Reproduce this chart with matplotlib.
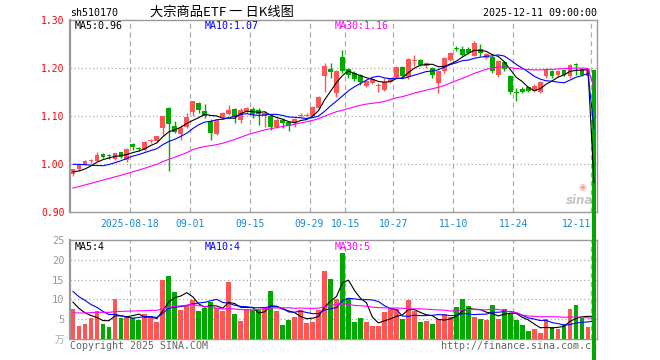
import numpy as np
import matplotlib.pyplot as plt

# daily candles 2025-08-04 .. 2025-12-11 (index 0..87)
opens = [0.979, 0.989, 0.998, 1.006, 1.007, 1.021, 1.018, 1.010, 1.024, 1.008,
         1.042, 1.034, 1.029, 1.047, 1.047, 1.074, 1.117, 1.079, 1.062, 1.078,
         1.108, 1.128, 1.110, 1.090, 1.062, 1.097, 1.104, 1.115, 1.092, 1.109,
         1.115, 1.113, 1.100, 1.100, 1.078, 1.092, 1.088, 1.085, 1.101, 1.101,
         1.101, 1.117, 1.184, 1.198, 1.148, 1.222, 1.198, 1.190, 1.186, 1.163,
         1.169, 1.162, 1.155, 1.170, 1.182, 1.202, 1.181, 1.215, 1.217, 1.205,
         1.200, 1.169, 1.193, 1.217, 1.241, 1.240, 1.240, 1.226, 1.240, 1.221,
         1.223, 1.186, 1.212, 1.184, 1.150, 1.157, 1.161, 1.153, 1.151, 1.183,
         1.193, 1.185, 1.196, 1.183, 1.208, 1.197, 1.183, 1.196]
highs = [0.990, 0.999, 1.008, 1.010, 1.025, 1.023, 1.020, 1.023, 1.025, 1.033,
         1.044, 1.036, 1.047, 1.053, 1.059, 1.100, 1.118, 1.090, 1.081, 1.106,
         1.132, 1.130, 1.125, 1.093, 1.093, 1.109, 1.123, 1.116, 1.117, 1.119,
         1.118, 1.116, 1.110, 1.102, 1.095, 1.096, 1.090, 1.095, 1.106, 1.106,
         1.120, 1.141, 1.210, 1.210, 1.195, 1.238, 1.200, 1.193, 1.188, 1.174,
         1.179, 1.169, 1.180, 1.179, 1.204, 1.205, 1.221, 1.228, 1.219, 1.212,
         1.203, 1.195, 1.222, 1.233, 1.245, 1.245, 1.244, 1.256, 1.249, 1.232,
         1.225, 1.216, 1.214, 1.186, 1.158, 1.160, 1.163, 1.166, 1.172, 1.200,
         1.196, 1.196, 1.198, 1.209, 1.211, 1.200, 1.200, 1.196]
lows = [0.976, 0.986, 0.997, 1.002, 1.006, 1.012, 1.010, 1.009, 1.013, 1.004,
        1.030, 1.028, 1.027, 1.043, 1.045, 1.060, 0.986, 1.064, 1.051, 1.075,
        1.099, 1.106, 1.095, 1.051, 1.060, 1.094, 1.102, 1.085, 1.085, 1.107,
        1.095, 1.081, 1.078, 1.070, 1.075, 1.075, 1.069, 1.078, 1.097, 1.097,
        1.099, 1.115, 1.150, 1.179, 1.140, 1.190, 1.180, 1.172, 1.165, 1.160,
        1.166, 1.150, 1.152, 1.168, 1.180, 1.180, 1.178, 1.205, 1.205, 1.200,
        1.180, 1.148, 1.190, 1.214, 1.236, 1.225, 1.229, 1.224, 1.224, 1.219,
        1.190, 1.182, 1.194, 1.145, 1.132, 1.147, 1.150, 1.150, 1.148, 1.180,
        1.180, 1.182, 1.183, 1.180, 1.186, 1.183, 1.176, 0.010]
closes = [0.989, 0.998, 1.006, 1.007, 1.019, 1.015, 1.016, 1.022, 1.015, 1.031,
          1.035, 1.032, 1.046, 1.049, 1.058, 1.099, 1.083, 1.067, 1.076, 1.097,
          1.131, 1.112, 1.101, 1.065, 1.092, 1.107, 1.113, 1.100, 1.113, 1.116,
          1.104, 1.104, 1.107, 1.078, 1.092, 1.085, 1.080, 1.094, 1.102, 1.102,
          1.119, 1.139, 1.205, 1.192, 1.193, 1.193, 1.186, 1.178, 1.170, 1.172,
          1.177, 1.163, 1.170, 1.177, 1.203, 1.183, 1.219, 1.217, 1.207, 1.210,
          1.186, 1.193, 1.221, 1.232, 1.239, 1.228, 1.232, 1.253, 1.231, 1.230,
          1.193, 1.214, 1.198, 1.151, 1.147, 1.150, 1.153, 1.163, 1.170, 1.195,
          1.184, 1.193, 1.186, 1.207, 1.206, 1.186, 1.197, 0.010]
volumes = [7.7, 3.2, 3.9, 5.3, 7.0, 3.9, 3.0, 10.0, 5.3, 5.9,
           5.3, 4.9, 6.2, 5.3, 4.2, 15.0, 16.0, 11.8, 7.3, 8.4,
           9.8, 7.0, 7.8, 9.3, 7.8, 7.0, 14.3, 6.4, 4.5, 7.6,
           7.2, 7.2, 7.8, 12.2, 7.0, 3.6, 4.9, 5.6, 7.4, 4.1,
           4.2, 7.2, 17.1, 15.2, 10.0, 21.6, 10.4, 4.2, 5.3, 4.2,
           3.4, 3.2, 6.8, 7.8, 7.5, 5.1, 9.8, 7.0, 4.2, 4.5,
           3.9, 5.1, 6.2, 5.6, 8.0, 10.2, 8.4, 5.5, 5.1, 4.7,
           8.7, 5.1, 7.7, 6.3, 4.7, 3.6, 1.9, 2.6, 1.4, 5.1,
           3.0, 2.6, 3.9, 7.7, 8.7, 5.3, 3.0, 3.9]

# the 29 sessions before the window (only feed the moving averages)
pre_closes = [0.905, 0.902, 0.910, 0.915, 0.912, 0.918, 0.920, 0.916, 0.922, 0.925,
              0.928, 0.924, 0.930, 0.935, 0.932, 0.938, 0.940, 0.936, 0.945, 0.948,
              1.000, 1.012, 1.018, 1.025, 1.020, 0.990, 0.985, 0.975, 0.980]
pre_volumes = [3.5, 4.2, 3.0, 4.8, 3.6, 4.0, 3.2, 4.5, 3.8, 4.1,
               3.4, 4.6, 3.9, 3.3, 4.4, 3.7, 4.2, 3.6, 4.0, 4.2,
               16.5, 13.0, 15.8, 14.2, 14.0, 11.0, 9.5, 8.8, 9.5]

tick_idx = [10, 20, 30, 40, 46, 54, 64, 74, 87]
tick_labels = ['2025-08-18', '09-01', '09-15', '09-29', '10-15',
               '10-27', '11-10', '11-24', '12-11']

RED = '#ff5555'
GREEN = '#00a800'
GRID = '#aaaaaa'
MONO = 'DejaVu Sans Mono'

W, H = 660, 360


def box(l, t, r, b):
    return [l / W, 1 - b / H, (r - l) / W, (b - t) / H]


def px(a, b):
    return a / W, 1 - b / H


def ma(pre, cur, n):
    s = np.concatenate([pre, cur])
    return np.convolve(s, np.ones(n) / n, mode='valid')[-len(cur):]


opens = np.array(opens); closes = np.array(closes)
highs = np.array(highs); lows = np.array(lows)
volumes = np.array(volumes)
x = np.arange(len(closes))
colors = np.where(closes >= opens, RED, GREEN)

fig = plt.figure(figsize=(W / 100, H / 100), dpi=100)
fig.patch.set_facecolor('white')
ax = fig.add_axes(box(70, 20, 597, 212))
axv = fig.add_axes(box(70, 240, 597, 339))
ax.set_zorder(2)
axv.set_zorder(1)

for a in (ax, axv):
    a.set_facecolor('none')
    a.set_xlim(-0.5, len(x) - 0.5)
    for s in a.spines.values():
        s.set_color('#999999')
        s.set_linewidth(1)
    a.spines['left'].set_linewidth(1.6)
    for k in tick_idx:
        a.axvline(k - 0.5, color=GRID, ls=(0, (4, 3)), lw=0.9, zorder=0)
    a.tick_params(length=0)

# price panel
ax.set_ylim(0.90, 1.30)
for v in (1.0, 1.1, 1.2):
    ax.axhline(v, color=GRID, ls=(0, (1, 2)), lw=0.9, zorder=0)
ax.set_yticks([0.9, 1.0, 1.1, 1.2, 1.3])
ax.set_yticklabels(['%.2f' % v for v in [0.9, 1.0, 1.1, 1.2, 1.3]],
                   color='red', family=MONO, fontsize=7)
ax.tick_params(axis='y', pad=4)
ax.set_xticks([k - 0.5 for k in tick_idx])
ax.set_xticklabels(tick_labels, color='#1787d8', family=MONO, fontsize=7)
ax.get_xticklabels()[-1].set_ha('right')
ax.tick_params(axis='x', pad=5)

ax.vlines(x[:-1], lows[:-1], highs[:-1], colors=colors[:-1], lw=1, zorder=3)
bars = ax.bar(x, np.maximum(np.abs(closes - opens), 0.002), 0.8,
              bottom=np.minimum(opens, closes), color=colors, lw=0, zorder=4)
# last session's body runs off the panel, down through the volume pane
bars.patches[-1].set_clip_on(False)
bars.patches[-1].set_antialiased(False)

ax.plot(x, ma(pre_closes, closes, 5), color='black', lw=0.8, zorder=5)
ax.plot(x, ma(pre_closes, closes, 10), color='blue', lw=0.8, zorder=5)
ax.plot(x, ma(pre_closes, closes, 30), color='magenta', lw=0.8, zorder=5)

# sina watermark
ax.text(*px(582, 187), '\u25c9', transform=fig.transFigure, color='#f5a5a5',
        fontsize=6.5, ha='center', va='center', zorder=1)
ax.text(*px(566, 201), 'sina', transform=fig.transFigure, color='#c4c4c4',
        fontsize=8.5, style='italic', weight='bold', va='center', zorder=1)

# volume panel
axv.set_ylim(0, 25)
for v in (5, 10, 15, 20):
    axv.axhline(v, color=GRID, ls=(0, (1, 2)), lw=0.9, zorder=0)
axv.set_yticks([5, 10, 15, 20, 25])
axv.set_yticklabels(['5', '10', '15', '20', '25'], color='#999999',
                    family=MONO, fontsize=7.5)
axv.tick_params(axis='y', pad=4)
axv.set_xticks([])
axv.bar(x, volumes, 0.8, color=colors, lw=0, zorder=3)
axv.plot(x, ma(pre_volumes, volumes, 5), color='black', lw=0.8, zorder=5)
axv.plot(x, ma(pre_volumes, volumes, 10), color='blue', lw=0.8, zorder=5)
axv.plot(x, ma(pre_volumes, volumes, 30), color='magenta', lw=0.8, zorder=5)

# header and labels
fig.text(*px(70, 12.5), 'sh510170', family=MONO, fontsize=7.2, va='center')
fig.text(*px(150, 12), '大宗商品ETF 一 日K线图', family=['Noto Sans CJK SC', 'DejaVu Sans'],
         fontsize=9.5, va='center')
fig.text(*px(597, 12.5), '2025-12-11 09:00:00', family=MONO, fontsize=7.2,
         va='center', ha='right')

fig.text(*px(75, 26), 'MA5:0.96', family=MONO, fontsize=7.2, va='center', color='black')
fig.text(*px(205, 26), 'MA10:1.07', family=MONO, fontsize=7.2, va='center', color='blue')
fig.text(*px(335, 26), 'MA30:1.16', family=MONO, fontsize=7.2, va='center', color='magenta')
fig.text(*px(75, 246.5), 'MA5:4', family=MONO, fontsize=7.2, va='center', color='black')
fig.text(*px(205, 246.5), 'MA10:4', family=MONO, fontsize=7.2, va='center', color='blue')
fig.text(*px(335, 246.5), 'MA30:5', family=MONO, fontsize=7.2, va='center', color='magenta')

axv.text(*px(64, 340), '万', transform=fig.transFigure, color='#aaaaaa',
         family=['Noto Sans CJK SC', 'DejaVu Sans'], fontsize=7, ha='right', va='center')
axv.text(*px(70, 346), 'Copyright 2025 SINA.COM', transform=fig.transFigure,
         family=MONO, fontsize=7.2, color='#666666', va='center')
axv.text(*px(597, 346), 'http://finance.sina.com.cn', transform=fig.transFigure,
         family=MONO, fontsize=7.2, color='#666666', va='center', ha='right')

fig.savefig('out.png', dpi=100, facecolor='white')
